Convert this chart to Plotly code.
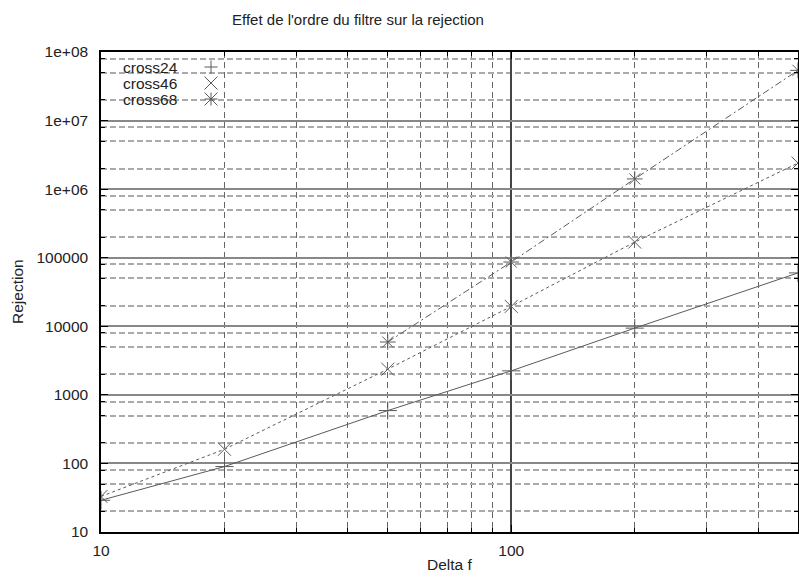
import plotly.graph_objects as go

# Data
delta_f = [10, 20, 50, 100, 200, 500]
cross24 = [29, 90, 590, 2240, 9400, 60000]
cross46 = [33, 161, 2370, 19500, 169000, 2.4e6]
delta_f68 = [50, 100, 200, 500]
cross68 = [5900, 86500, 1.41e6, 5.4e7]

series_names = ['cross24', 'cross46', 'cross68']

# Axis ticks
x_major = [10, 100]
x_major_text = ['10', '100']
x_minor = [20, 30, 40, 50, 60, 70, 80, 90, 200, 300, 400]
y_major = [10, 100, 1000, 10000, 100000, 1e6, 1e7, 1e8]
y_major_text = ['10', '100', '1000', '10000', '100000', '1e+06', '1e+07', '1e+08']
y_minor = [m * 10 ** e for e in range(1, 8) for m in (2, 5, 8)]

W, H = 799, 579
ML, MR, MT, MB = 101, 1, 52, 47
PW, PH = W - ML - MR, H - MT - MB
FONT = 'Liberation Sans, Arial, sans-serif'
FS = 15.5
INK = '#5a5a5a'
TXT = '#222222'

fig = go.Figure()

styles = [
    dict(x=delta_f, y=cross24, dash='solid', symbol='cross-thin-open'),
    dict(x=delta_f, y=cross46, dash='3px,3px', symbol='x-thin-open'),
    dict(x=delta_f68, y=cross68, dash='7px,3px,2px,3px', symbol='asterisk-open'),
]

for name, s in zip(series_names, styles):
    fig.add_trace(go.Scatter(
        x=s['x'], y=s['y'], name=name, mode='lines+markers',
        line=dict(color=INK, width=1, dash=s['dash']),
        marker=dict(symbol=s['symbol'], size=13, line=dict(color=INK, width=1)),
        showlegend=False,
    ))


# hand-made key: label on the left, symbol on the right (gnuplot style)
def px(x):
    return (x - ML) / PW


def py(y):
    return (H - MB - y) / PH


def symbol_shapes(symbol, cx, cy, r):
    segs = []
    if symbol in ('cross-thin-open', 'asterisk-open'):
        segs += [(cx - r, cy, cx + r, cy), (cx, cy - r, cx, cy + r)]
    if symbol in ('x-thin-open', 'asterisk-open'):
        segs += [(cx - r, cy - r, cx + r, cy + r), (cx - r, cy + r, cx + r, cy - r)]
    return [dict(type='line', xref='paper', yref='paper',
                 x0=px(a), y0=py(b), x1=px(c), y1=py(d),
                 line=dict(color=INK, width=1)) for a, b, c, d in segs]


key_rows = [67, 83, 99]
for name, s, ky in zip(series_names, styles, key_rows):
    fig.add_annotation(x=px(121), y=py(ky), xref='paper', yref='paper',
                       text=name, showarrow=False, xanchor='left', yanchor='middle',
                       font=dict(family=FONT, size=FS, color=TXT))
    for shp in symbol_shapes(s['symbol'], 211, ky, 6.5):
        fig.add_shape(**shp)

fig.add_annotation(x=0.5, y=py(564), xref='paper', yref='paper', text='Delta f',
                   xanchor='center', yanchor='middle', showarrow=False,
                   font=dict(family=FONT, size=FS, color=TXT))
fig.add_annotation(x=px(17), y=0.5, xref='paper', yref='paper', text='Rejection',
                   xanchor='center', yanchor='middle', textangle=-90, showarrow=False,
                   font=dict(family=FONT, size=FS, color=TXT))

fig.update_xaxes(
    type='log', range=[1, 2.699], automargin=False,
    tickmode='array', tickvals=x_major, ticktext=x_major_text,
    ticks='inside', ticklen=7, tickcolor='black', ticklabelstandoff=4,
    showgrid=True, gridcolor='#444444', gridwidth=1.5,
    minor=dict(tickmode='array', tickvals=x_minor, ticks='inside', ticklen=4,
               tickcolor='black', showgrid=True, gridcolor='#666666',
               gridwidth=1, griddash='6px,4px'),
    showline=True, linecolor='black', linewidth=1.5, mirror='ticks',
    zeroline=False, tickfont=dict(family=FONT, size=FS, color=TXT),
)
fig.update_yaxes(
    type='log', range=[1, 8], automargin=False,
    tickmode='array', tickvals=y_major, ticktext=y_major_text,
    ticks='inside', ticklen=7, tickcolor='black', ticklabelstandoff=8,
    showgrid=True, gridcolor='#888888', gridwidth=2,
    minor=dict(tickmode='array', tickvals=y_minor, ticks='inside', ticklen=4,
               tickcolor='black', showgrid=True, gridcolor='#aaaaaa',
               gridwidth=1.5, griddash='6px,3px'),
    showline=True, linecolor='black', linewidth=1.5, mirror='ticks',
    zeroline=False, tickfont=dict(family=FONT, size=FS, color=TXT),
)

fig.update_layout(
    width=W, height=H,
    margin=dict(l=ML, r=MR, t=MT, b=MB, autoexpand=False),
    paper_bgcolor='white', plot_bgcolor='white',
    title=dict(text="Effet de l'ordre du filtre sur la rejection",
               x=358 / W, xanchor='center', xref='container',
               y=1 - 20 / H, yanchor='middle', yref='container',
               font=dict(family=FONT, size=15, color=TXT)),
    showlegend=False,
)

# drop the browser's default 8px body margin so the figure sits at (0, 0)
fig.write_html('out.html', config={'displayModeBar': False},
               post_script="document.body.style.margin='0';")
